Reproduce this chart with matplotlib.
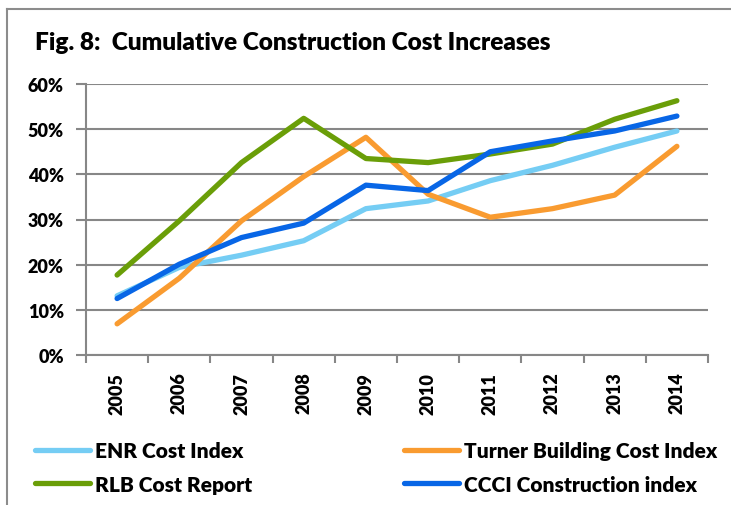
import matplotlib
matplotlib.use("Agg")
import matplotlib.pyplot as plt
from matplotlib.lines import Line2D
from matplotlib.ticker import PercentFormatter

plt.rcParams['font.family'] = ['Lato', 'DejaVu Sans']
W = 'heavy'
plt.rcParams['font.weight'] = W

years = ['2005', '2006', '2007', '2008', '2009', '2010', '2011', '2012', '2013', '2014']
enr = [13.1, 19.4, 22.1, 25.3, 32.4, 34.1, 38.6, 42.0, 46.0, 49.6]
turner = [6.9, 17.0, 29.7, 39.5, 48.2, 35.6, 30.5, 32.4, 35.4, 46.2]
rlb = [17.7, 29.7, 42.6, 52.4, 43.5, 42.6, 44.5, 46.7, 52.2, 56.3]
ccci = [12.5, 20.1, 26.0, 29.2, 37.6, 36.4, 45.0, 47.4, 49.6, 52.9]

names = ['ENR Cost Index', 'Turner Building Cost Index', 'RLB Cost Report', 'CCCI Construction index']
colors = ['#75CDF4', '#F99B30', '#6A9E08', '#0866E6']
series = [enr, turner, rlb, ccci]

fig = plt.figure(figsize=(7.31, 5.06), dpi=100)
ax = fig.add_axes([86/731, 1-356/506, (708-86)/731, (356-85)/506])

x = list(range(len(years)))
handles = []
for vals, c, n in zip(series, colors, names):
    h, = ax.plot(x, vals, color=c, lw=3.8, solid_capstyle='round', solid_joinstyle='round', label=n)
    handles.append(h)

grid_c = '#878787'
ax.set_xlim(-0.5, len(years) - 0.5)
ax.set_ylim(0, 60)
ax.set_yticks(range(0, 61, 10))
ax.yaxis.set_major_formatter(PercentFormatter(decimals=0))
ax.yaxis.grid(True, color=grid_c, lw=1.5)
ax.set_axisbelow(True)
ax.set_xticks([i - 0.5 for i in range(len(years) + 1)])
ax.set_xticklabels([])
ax.set_xticks(x, minor=True)
ax.set_xticklabels(years, minor=True, rotation=90, fontsize=13, fontweight=W)
ax.tick_params(axis='x', which='minor', length=0, pad=12)
ax.tick_params(axis='x', which='major', length=6, width=1.5, color=grid_c)
ax.tick_params(axis='y', length=7, width=1.5, color=grid_c, labelsize=13, pad=9)
for lab in ax.get_yticklabels():
    lab.set_fontweight(W)
for s in ['top', 'right']:
    ax.spines[s].set_visible(False)
for s in ['left', 'bottom']:
    ax.spines[s].set_color(grid_c)
    ax.spines[s].set_linewidth(1.5)

title = fig.text(35/731, 1-43/506, 'Fig. 8:  Cumulative Construction Cost Increases', fontsize=17,
                 fontweight=W, va='center', ha='left')

order = [0, 2, 1, 3]
leg = fig.legend([handles[i] for i in order], [names[i] for i in order], ncol=2,
                 loc='upper left', bbox_to_anchor=(35/731, 1-442/506), frameon=False,
                 borderpad=0, borderaxespad=0,
                 handlelength=2.64, handletextpad=0.24, columnspacing=7.3,
                 labelspacing=0.7, prop={'weight': W, 'size': 15})

# fit title to reference width
fig.canvas.draw()
r = fig.canvas.get_renderer()
w = title.get_window_extent(r).width
title.set_fontsize(17 * 517 / w)

# partial frame (left and top)
fig.add_artist(Line2D([6.5/731, 6.5/731], [0, 1-9.5/506], color='#8C8C8C', lw=1.5))
fig.add_artist(Line2D([6.5/731, 1], [1-9.5/506, 1-9.5/506], color='#8C8C8C', lw=1.5))

fig.savefig('out.png', dpi=100)
